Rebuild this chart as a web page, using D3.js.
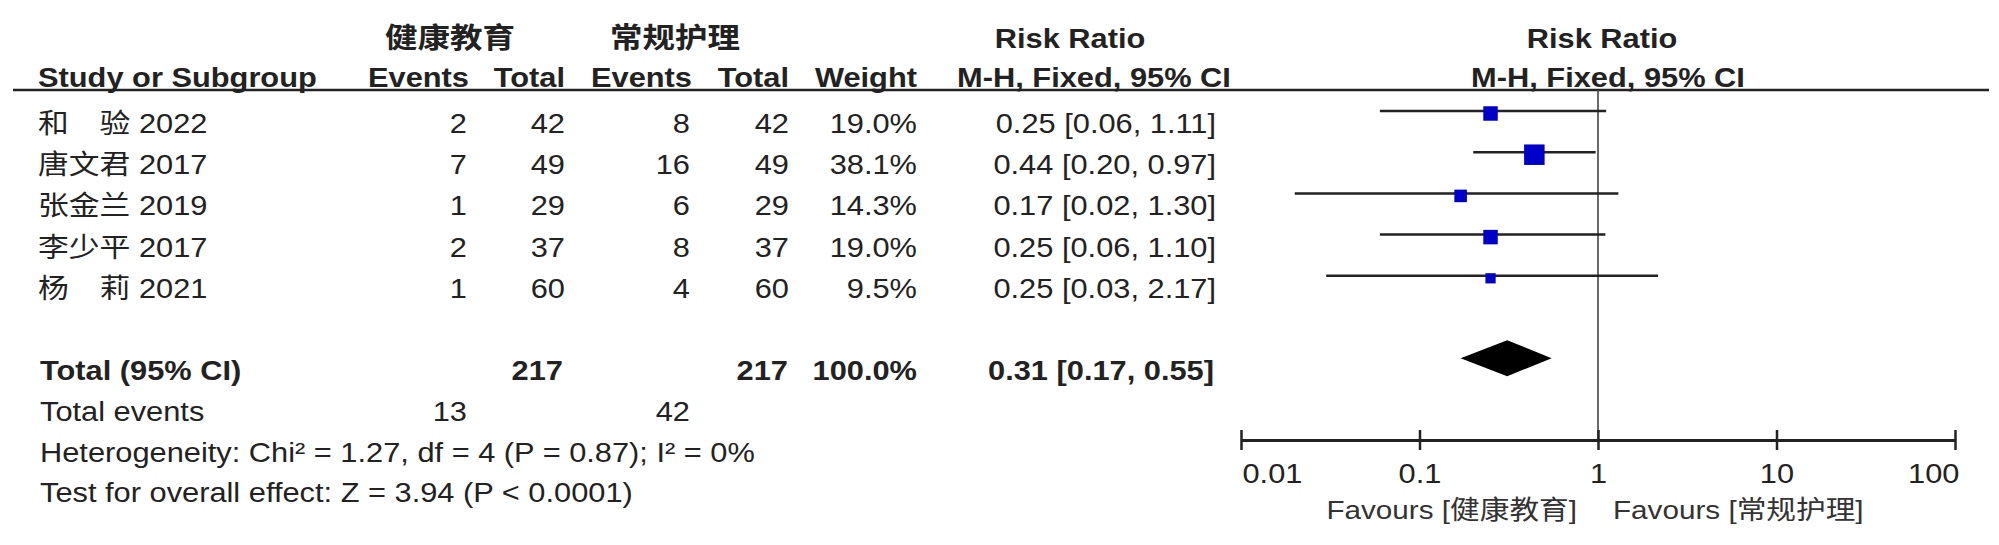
<!DOCTYPE html>
<html>
<head>
<meta charset="utf-8">
<script src="https://cdn.jsdelivr.net/npm/d3@7"></script>
<style>
  html, body { margin: 0; padding: 0; background: #fff; }
  svg { display: block; }
  text { font-family: "Liberation Sans", Arial, "Noto Sans CJK SC", sans-serif; fill: #222; }
</style>
</head>
<body>
<svg id="chart" width="1999" height="545"></svg>
<script>
// ---------------- DATA ----------------
const studies  = ["和　验 2022", "唐文君 2017", "张金兰 2019", "李少平 2017", "杨　莉 2021"];
const events1  = [2, 7, 1, 2, 1];
const total1   = [42, 49, 29, 37, 60];
const events2  = [8, 16, 6, 8, 4];
const total2   = [42, 49, 29, 37, 60];
const weights  = [19.0, 38.1, 14.3, 19.0, 9.5];
const rr       = [0.25, 0.44, 0.17, 0.25, 0.25];
const ciLow    = [0.06, 0.20, 0.02, 0.06, 0.03];
const ciHigh   = [1.11, 0.97, 1.30, 1.10, 2.17];
const pooled   = [0.31, 0.17, 0.55];   // estimate, low, high
const totalN   = [217, 217];
const totalEv  = [13, 42];
const totalWeight = 100.0;
const groupNames = ["健康教育", "常规护理"];
const tickValues = [0.01, 0.1, 1, 10, 100];
const tickLabels = ["0.01", "0.1", "1", "10", "100"];
const heteroText = "Heterogeneity: Chi² = 1.27, df = 4 (P = 0.87); I² = 0%";
const testText   = "Test for overall effect: Z = 3.94 (P < 0.0001)";

// ---------------- LAYOUT ----------------
const SX = 1.12;      // horizontal stretch of text
const FS = 27.5;
const svg = d3.select("#chart");

function T(x, y, s, anchor, bold, extra) {
  const t = svg.append("text")
    .attr("transform", `translate(${x},${y}) scale(${SX},1)`)
    .attr("text-anchor", anchor || "start")
    .style("font-size", FS + "px")
    .style("font-weight", bold ? "700" : "400")
    .text(s);
  if (extra) extra(t);
  return t;
}

const rowY = d3.scaleLinear().domain([0, 1]).range([111, 152.2]);   // marker line y of row i
const x = d3.scaleLog().domain([0.01, 100]).range([1241, 1955]);
const sq = d3.scaleSqrt().domain([0, 38.1]).range([0, 20.5]);
const fmt2 = d3.format(".2f");
const fmt1 = d3.format(".1f");
const ciLabel = (e, l, h) => `${fmt2(e)} [${fmt2(l)}, ${fmt2(h)}]`;

// ---------- headers ----------
T(450, 48, groupNames[0], "middle", true, t => t.style("font-size", "29px").style("font-family", "'Noto Sans CJK SC', sans-serif"));
T(675, 48, groupNames[1], "middle", true, t => t.style("font-size", "29px").style("font-family", "'Noto Sans CJK SC', sans-serif"));
T(1070, 48, "Risk Ratio", "middle", true);
T(1602, 48, "Risk Ratio", "middle", true);

T(38, 87, "Study or Subgroup", "start", true);
T(469, 87, "Events", "end", true);
T(565, 87, "Total", "end", true);
T(692, 87, "Events", "end", true);
T(789, 87, "Total", "end", true);
T(917, 87, "Weight", "end", true);
T(1094, 87, "M-H, Fixed, 95% CI", "middle", true);
T(1608, 87, "M-H, Fixed, 95% CI", "middle", true);

svg.append("line").attr("x1", 13).attr("x2", 1989).attr("y1", 90).attr("y2", 90)
  .attr("stroke", "#222").attr("stroke-width", 2.5);

// ---------- study rows (text) ----------
function col(cls, arr, xPos, anchor, f) {
  svg.selectAll("text." + cls).data(arr).join("text")
    .attr("class", cls)
    .attr("transform", (d, i) => `translate(${xPos},${rowY(i) + 22}) scale(${SX},1)`)
    .attr("text-anchor", anchor)
    .style("font-size", FS + "px")
    .text((d, i) => f ? f(d, i) : d);
}
col("name", studies, 38, "start");
col("ev1", events1, 467, "end");
col("tot1", total1, 565, "end");
col("ev2", events2, 690, "end");
col("tot2", total2, 789, "end");
col("wt", weights, 917, "end", d => fmt1(d) + "%");
col("rr", rr, 1216, "end", (d, i) => ciLabel(d, ciLow[i], ciHigh[i]));

// ---------- totals ----------
T(40, 380, "Total (95% CI)", "start", true);
T(563, 380, String(totalN[0]), "end", true);
T(788, 380, String(totalN[1]), "end", true);
T(917, 380, fmt1(totalWeight) + "%", "end", true);
T(1214, 380, ciLabel(pooled[0], pooled[1], pooled[2]), "end", true);

T(40, 421, "Total events", "start", false);
T(467, 421, String(totalEv[0]), "end", false);
T(690, 421, String(totalEv[1]), "end", false);
T(40, 462, heteroText, "start", false);
T(40, 502, testText, "start", false);

// ---------- forest plot ----------
const axisY = 440;
// line of no effect
svg.append("line").attr("x1", x(1)).attr("x2", x(1)).attr("y1", 90).attr("y2", axisY)
  .attr("stroke", "#444").attr("stroke-width", 1.6);

// CI lines
svg.selectAll("line.ci").data(rr).join("line").attr("class", "ci")
  .attr("x1", (d, i) => x(ciLow[i])).attr("x2", (d, i) => x(ciHigh[i]))
  .attr("y1", (d, i) => rowY(i)).attr("y2", (d, i) => rowY(i))
  .attr("stroke", "#222").attr("stroke-width", 2.5);

// squares
svg.selectAll("rect.pt").data(rr).join("rect").attr("class", "pt")
  .attr("x", (d, i) => x(d) - sq(weights[i]) / 2)
  .attr("y", (d, i) => rowY(i) + 2.5 - sq(weights[i]) / 2)
  .attr("width", (d, i) => sq(weights[i]))
  .attr("height", (d, i) => sq(weights[i]))
  .attr("fill", "#0000c8");

// diamond
const dy = rowY(6);
svg.append("path")
  .attr("d", `M${x(pooled[1])},${dy} L${x(pooled[0])},${dy - 18} L${x(pooled[2])},${dy} L${x(pooled[0])},${dy + 18} Z`)
  .attr("fill", "#000");

// axis
const axG = svg.append("g").attr("transform", `translate(0,${axisY})`)
  .call(d3.axisBottom(x).tickValues(tickValues).tickFormat((d, i) => tickLabels[i]).tickSizeOuter(0));
axG.select(".domain").attr("stroke", "#222").attr("stroke-width", 3);
axG.selectAll(".tick line").attr("y1", -10).attr("y2", 10).attr("stroke", "#222").attr("stroke-width", 2.5);
axG.selectAll(".tick text")
  .attr("y", null).attr("dy", null)
  .attr("transform", (d, i) => `translate(${i === 0 ? 1 : i === tickValues.length - 1 ? 4 : 0},43) scale(${SX},1)`)
  .attr("text-anchor", (d, i) => i === 0 ? "start" : i === tickValues.length - 1 ? "end" : "middle")
  .style("font-size", FS + "px")
  .style("font-family", "'Liberation Sans', Arial, sans-serif")
  .attr("fill", "#222");

// favours labels
T(1577, 519, `Favours [${groupNames[0]}]`, "end", false, t => t.style("fill", "#333").style("font-size", "26.5px"));
T(1613, 519, `Favours [${groupNames[1]}]`, "start", false, t => t.style("fill", "#333").style("font-size", "26.5px"));
</script>
</body>
</html>
